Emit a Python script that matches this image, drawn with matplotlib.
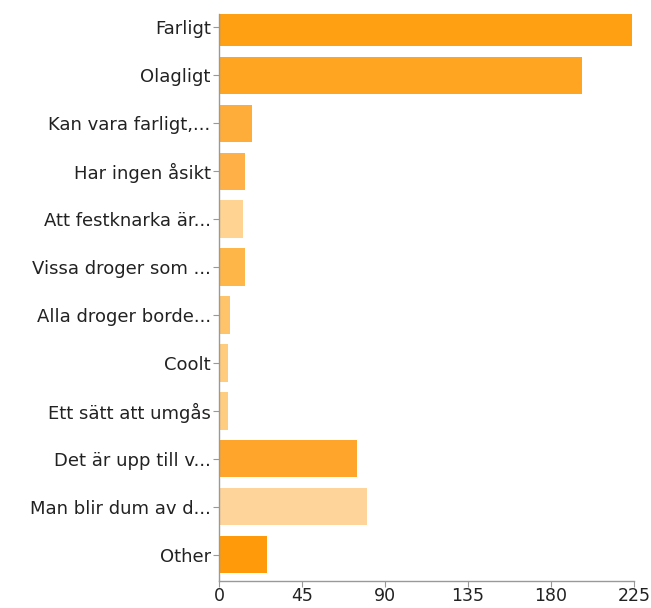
import matplotlib
matplotlib.use('Agg')
import matplotlib.pyplot as plt

# svar och antal
svar = ['Farligt', 'Olagligt', 'Kan vara farligt,...', 'Har ingen åsikt',
        'Att festknarka är...', 'Vissa droger som ...', 'Alla droger borde...',
        'Coolt', 'Ett sätt att umgås', 'Det är upp till v...',
        'Man blir dum av d...', 'Other']
antal = [224, 197, 18, 14, 13, 14, 6, 5, 5, 75, 80, 26]
farger = ['#FF9F12', '#FFA521', '#FFAD3A', '#FFB147', '#FFD391', '#FFB648',
          '#FFC46A', '#FFCB7C', '#FFCD80', '#FFA52B', '#FFD49A', '#FF9B0A']
xticks = [0, 45, 90, 135, 180, 225]

plt.rcParams['font.family'] = ['DejaVu Sans']

fig = plt.figure(figsize=(6.51, 6.08), dpi=100)
ax = fig.add_axes([219 / 651, 1 - 581 / 608, 415 / 651, (581 - 14) / 608])

pos = range(len(svar))
ax.barh(pos, antal, height=0.78, color=farger)

ax.set_xlim(0, 225)
ax.set_ylim(11.55, -0.28)
ax.set_yticks(list(pos))
ax.set_yticklabels(svar, fontsize=13, color='#222222')
ax.set_xticks(xticks)
ax.set_xticklabels([str(t) for t in xticks], fontsize=12.5, color='#222222')

for s in ['top', 'right']:
    ax.spines[s].set_visible(False)
for s in ['left', 'bottom']:
    ax.spines[s].set_color('#999999')
    ax.spines[s].set_linewidth(1)
ax.tick_params(axis='y', length=4, color='#999999', pad=2)
ax.tick_params(axis='x', length=4, color='#999999', pad=0)

fig.savefig('out.png', dpi=100)
